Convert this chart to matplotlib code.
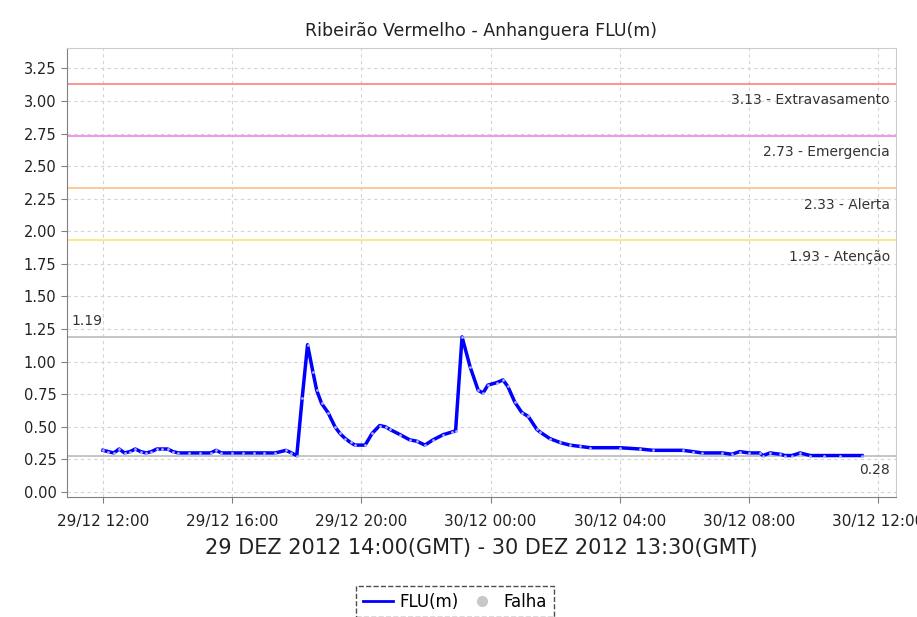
import datetime as dt
import matplotlib
matplotlib.use("Agg")
import matplotlib.pyplot as plt
import matplotlib.dates as mdates
import matplotlib.transforms as mtransforms
from matplotlib.lines import Line2D

# Data: minutes after 29/12 12:00 (local) and water level (m)
minutes = [0, 10, 20, 30, 40, 50, 60, 70, 80, 90, 100, 110, 120, 130, 140, 160,
           180, 200, 210, 220, 240, 260, 280, 300, 320, 340, 350, 360, 370, 380,
           390, 397, 406, 418, 431, 440, 450, 460, 468, 487, 500, 514, 525, 533,
           552, 570, 583, 598, 613, 632, 648, 655, 667, 682, 697, 706, 715, 732,
           743, 752, 765, 778, 790, 806, 812, 830, 849, 867, 886, 905, 960, 998,
           1022, 1077, 1096, 1113, 1150, 1168, 1183, 1200, 1220, 1226, 1239, 1258,
           1267, 1280, 1295, 1314, 1340, 1370, 1410]
level = [0.32, 0.31, 0.30, 0.33, 0.30, 0.31, 0.33, 0.31, 0.30, 0.31, 0.33, 0.33,
         0.33, 0.31, 0.30, 0.30, 0.30, 0.30, 0.32, 0.30, 0.30, 0.30, 0.30, 0.30,
         0.30, 0.32, 0.30, 0.28, 0.72, 1.13, 0.92, 0.78, 0.68, 0.61, 0.50, 0.45,
         0.41, 0.38, 0.36, 0.36, 0.45, 0.51, 0.50, 0.48, 0.44, 0.40, 0.39, 0.36,
         0.40, 0.44, 0.46, 0.47, 1.19, 0.96, 0.78, 0.76, 0.82, 0.84, 0.86, 0.81,
         0.69, 0.61, 0.58, 0.48, 0.46, 0.41, 0.38, 0.36, 0.35, 0.34, 0.34, 0.33,
         0.32, 0.32, 0.31, 0.30, 0.30, 0.29, 0.31, 0.30, 0.30, 0.28, 0.30, 0.29,
         0.28, 0.28, 0.30, 0.28, 0.28, 0.28, 0.28]

thresholds = [3.13, 2.73, 2.33, 1.93]
threshold_names = ["Extravasamento", "Emergencia", "Alerta", "Atenção"]
threshold_colors = ["#ff8a8a", "#f08cf0", "#ffc58a", "#ffe680"]
max_level = 1.19
min_level = 0.28

base = dt.datetime(2012, 12, 29, 12, 0)
times = [base + dt.timedelta(minutes=m) for m in minutes]

fig = plt.figure(figsize=(9.17, 6.17), dpi=100)
ax = fig.add_axes([0.073, 0.1945, 0.904, 0.7275])

ax.set_xlim(base - dt.timedelta(minutes=67), base + dt.timedelta(minutes=1473))
ax.set_ylim(-0.038, 3.405)

ax.set_yticks([i * 0.25 for i in range(14)])
ax.yaxis.set_major_formatter(matplotlib.ticker.FormatStrFormatter("%.2f"))
ax.xaxis.set_major_locator(mdates.HourLocator(byhour=[0, 4, 8, 12, 16, 20]))
ax.xaxis.set_major_formatter(mdates.DateFormatter("%d/%m %H:%M"))
ax.tick_params(axis="both", colors="#808080", labelcolor="#222222", length=4)
ax.tick_params(axis="y", labelsize=10.5)
ax.tick_params(axis="x", labelsize=11, pad=8)

ax.grid(True, color="#d4d4d4", linestyle=(0, (3, 3)), linewidth=0.8)
for side in ["left", "bottom"]:
    ax.spines[side].set_color("#808080")
for side in ["top", "right"]:
    ax.spines[side].set_color("#cccccc")

# threshold lines and labels
trans = mtransforms.blended_transform_factory(ax.transAxes, ax.transData)
for v, name, c in zip(thresholds, threshold_names, threshold_colors):
    ax.axhline(v, color=c, linewidth=1.3)
    ax.text(0.993, v - 0.125, "%.2f - %s" % (v, name), transform=trans,
            ha="right", va="center", fontsize=10, color="#333333")

ax.axhline(max_level, color="#c0c0c0", linewidth=1.3)
ax.text(0.006, max_level + 0.12, "%.2f" % max_level, transform=trans,
        ha="left", va="center", fontsize=10, color="#333333")
ax.axhline(min_level, color="#c0c0c0", linewidth=1.3)
ax.text(0.993, min_level - 0.11, "%.2f" % min_level, transform=trans,
        ha="right", va="center", fontsize=10, color="#333333")

ax.plot(times, level, color="#0000ff", linewidth=2.5, marker="o", markersize=2,
        markerfacecolor="#b0b0ff", markeredgecolor="none")

ax.set_title("Ribeirão Vermelho - Anhanguera FLU(m)", fontsize=12.5,
             color="#222222", pad=9)
ax.set_xlabel("29 DEZ 2012 14:00(GMT) - 30 DEZ 2012 13:30(GMT)",
              fontsize=15, color="#222222", labelpad=7)

handles = [Line2D([], [], color="#0000ff", linewidth=2),
           Line2D([], [], color="none", marker="o", markersize=8,
                  markerfacecolor="#c8c8c8", markeredgecolor="none")]
leg = fig.legend(handles, ["FLU(m)", "Falha"], loc="upper center",
                 bbox_to_anchor=(0.496, 0.064), ncol=2, fontsize=12,
                 frameon=True, fancybox=False, handlelength=1.8,
                 handletextpad=0.4, columnspacing=0.5, borderpad=0.4)
leg.get_frame().set_edgecolor("#222222")
leg.get_frame().set_linestyle("--")
leg.get_frame().set_linewidth(1.0)

fig.savefig("out.png", dpi=100)
